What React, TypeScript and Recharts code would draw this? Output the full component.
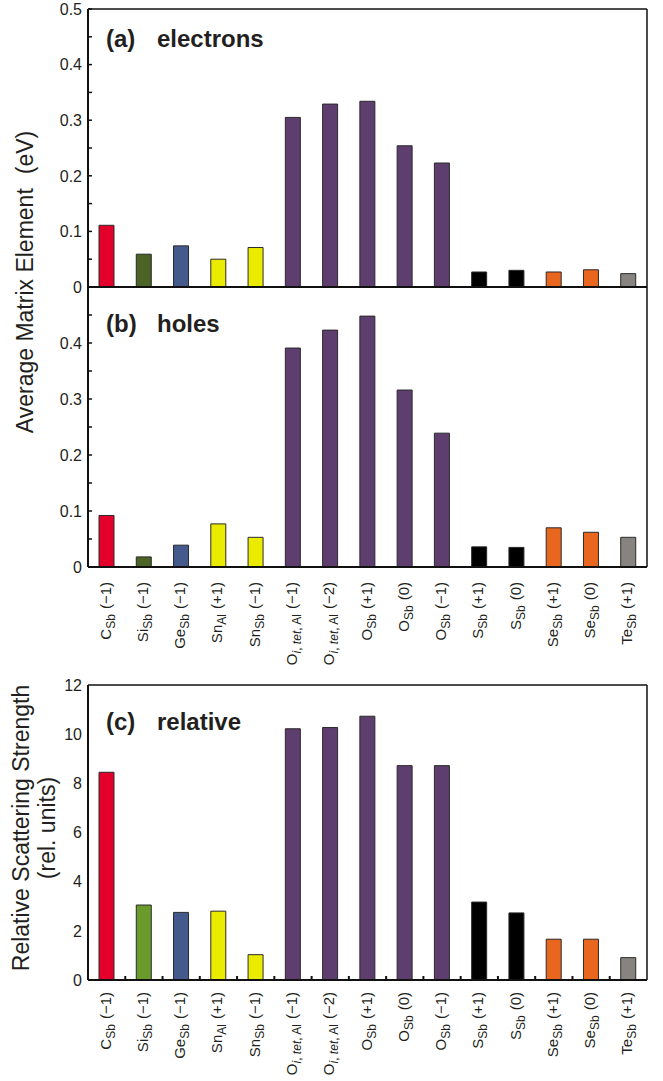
import React from "react";
import { BarChart, Bar, Cell, XAxis, YAxis } from "recharts";

// defect labels: species, subscript site, charge state
const species = ["C", "Si", "Ge", "Sn", "Sn", "O", "O", "O", "O", "O", "S", "S", "Se", "Se", "Te"];
const sites = ["Sb", "Sb", "Sb", "Al", "Sb", "i, tet, Al", "i, tet, Al", "Sb", "Sb", "Sb", "Sb", "Sb", "Sb", "Sb", "Sb"];
const charges = ["(−1)", "(−1)", "(−1)", "(+1)", "(−1)", "(−1)", "(−2)", "(+1)", "(0)", "(−1)", "(+1)", "(0)", "(+1)", "(0)", "(+1)"];

// average matrix element (eV)
const electrons = [0.111, 0.059, 0.074, 0.05, 0.071, 0.305, 0.329, 0.334, 0.254, 0.223, 0.027, 0.03, 0.027, 0.031, 0.024];
const holes = [0.092, 0.018, 0.039, 0.077, 0.053, 0.391, 0.423, 0.448, 0.316, 0.239, 0.036, 0.035, 0.07, 0.062, 0.053];
// relative scattering strength (rel. units)
const relative = [8.45, 3.05, 2.75, 2.8, 1.03, 10.22, 10.27, 10.73, 8.72, 8.72, 3.17, 2.73, 1.66, 1.66, 0.91];

const matrixTicks = [0, 0.05, 0.1, 0.15, 0.2, 0.25, 0.3, 0.35, 0.4, 0.45, 0.5];
const relativeTicks = [0, 2, 4, 6, 8, 10, 12];

const matrixColors = ["#E3002A", "#4B6324", "#44598C", "#EBEB00", "#EBEB00", "#5E3D6F", "#5E3D6F", "#5E3D6F", "#5E3D6F", "#5E3D6F", "#000000", "#000000", "#E8661E", "#E8661E", "#87837F"];
const relativeColors = ["#E3002A", "#6A9A2C", "#44598C", "#EBEB00", "#EBEB00", "#5E3D6F", "#5E3D6F", "#5E3D6F", "#5E3D6F", "#5E3D6F", "#000000", "#000000", "#E8661E", "#E8661E", "#87837F"];

const rows = species.map((s, i) => ({
  id: String(i),
  electrons: electrons[i],
  holes: holes[i],
  relative: relative[i],
}));

const FONT = "'Liberation Sans', Arial, Helvetica, sans-serif";
const INK = "#231f20";
const W = 663;
// plot spans x 88..647; y axes are 1px wide
const M = { right: 15, left: 87 };

const SiteText = ({ site }: { site: string }) => (
  <>
    {site.split(/(, )/).map((p, k) => (
      <tspan key={k} fontStyle={p === "i" || p === "tet" ? "italic" : "normal"}>
        {p}
      </tspan>
    ))}
  </>
);

const DefectTick = (props: any) => {
  const { x, y, payload, gap, marks } = props;
  const i = Number(payload.value);
  const half = payload.offset || 18.6;
  return (
    <g>
      {marks && i > 0 && (
        <line x1={x - half} x2={x - half} y1={y} y2={y - 4} stroke="#111" strokeWidth={2} />
      )}
      <text
        transform={`translate(${x + 4},${y + gap}) rotate(-90)`}
        textAnchor="end"
        fontFamily={FONT}
        fontSize={15}
        fill={INK}
        style={{ whiteSpace: "pre" }}
      >
        <tspan>{species[i]}</tspan>
        <tspan dy={4} fontSize={12}>
          <SiteText site={sites[i]} />
        </tspan>
        <tspan dy={-4} dx={5}>{charges[i]}</tspan>
      </text>
    </g>
  );
};

const ValueTick = (props: any) => {
  const { y, payload, marks, maxLabel, decimals, axisX } = props;
  const v = payload.value;
  const isMajor = decimals ? Math.abs(v * 10 - Math.round(v * 10)) < 1e-6 : true;
  const label = v === 0 ? "0" : v.toFixed(decimals);
  return (
    <g>
      {marks && <line x1={axisX} x2={axisX + 4} y1={y} y2={y} stroke="#111" strokeWidth={1.5} />}
      {isMajor && v <= maxLabel && (
        <text x={axisX - 6} y={y} dy="0.36em" textAnchor="end" fontFamily={FONT} fontSize={16} fill={INK}>
          {label}
        </text>
      )}
    </g>
  );
};

function MatrixPanel({ dataKey, height, top, bottom, withLabels, maxLabel }: any) {
  return (
    <BarChart width={W} height={height} data={rows} margin={{ top: top - 1, right: M.right, left: M.left, bottom }} barSize={15}>
      <XAxis
        dataKey="id"
        interval={0}
        tickLine={false}
        tickSize={0}
        tickMargin={0}
        height={withLabels ? 120 : 1}
        tick={withLabels ? (p: any) => <DefectTick {...p} gap={15} marks={false} /> : false}
        axisLine={{ stroke: "#111", strokeWidth: 2 }}
      />
      <XAxis xAxisId="top" orientation="top" dataKey="id" tick={false} tickLine={false} height={1} axisLine={{ stroke: "#111", strokeWidth: 1.5 }} />
      <YAxis
        type="number"
        domain={[0, 0.5]}
        ticks={matrixTicks}
        interval={0}
        width={1}
        tickLine={false}
        tickSize={0}
        tickMargin={0}
        tick={(p: any) => <ValueTick {...p} axisX={M.left + 1} marks decimals={1} maxLabel={maxLabel} />}
        axisLine={{ stroke: "#111", strokeWidth: 2 }}
      />
      <YAxis yAxisId="right" orientation="right" type="number" domain={[0, 1]} tick={false} tickLine={false} width={1} axisLine={{ stroke: "#111", strokeWidth: 1.5 }} />
      <Bar dataKey={dataKey} stroke="#2a2a2a" strokeWidth={1} isAnimationActive={false}>
        {rows.map((r, i) => (
          <Cell key={r.id} fill={matrixColors[i]} />
        ))}
      </Bar>
    </BarChart>
  );
}

function RelativePanel() {
  return (
    <BarChart width={W} height={404} data={rows} margin={{ top: 8, right: M.right, left: M.left, bottom: 0 }} barSize={15}>
      <XAxis
        dataKey="id"
        interval={0}
        tickLine={false}
        tickSize={0}
        tickMargin={0}
        height={100}
        tick={(p: any) => <DefectTick {...p} gap={12} marks />}
        axisLine={{ stroke: "#111", strokeWidth: 2 }}
      />
      <XAxis xAxisId="top" orientation="top" dataKey="id" tick={false} tickLine={false} height={1} axisLine={{ stroke: "#111", strokeWidth: 1.5 }} />
      <YAxis
        type="number"
        domain={[0, 12]}
        ticks={relativeTicks}
        interval={0}
        width={1}
        tickLine={false}
        tickSize={0}
        tickMargin={0}
        tick={(p: any) => <ValueTick {...p} axisX={M.left + 1} marks={false} decimals={0} maxLabel={12} />}
        axisLine={{ stroke: "#111", strokeWidth: 2 }}
      />
      <YAxis yAxisId="right" orientation="right" type="number" domain={[0, 1]} tick={false} tickLine={false} width={1} axisLine={{ stroke: "#111", strokeWidth: 1.5 }} />
      <Bar dataKey="relative" stroke="#2a2a2a" strokeWidth={1} isAnimationActive={false}>
        {rows.map((r, i) => (
          <Cell key={r.id} fill={relativeColors[i]} />
        ))}
      </Bar>
    </BarChart>
  );
}

export default function App() {
  const abs = (top: number): React.CSSProperties => ({ position: "absolute", left: 0, top });
  return (
    <div style={{ position: "absolute", left: 0, top: 0, width: W, height: 1081, background: "#fff" }}>
      <div style={abs(0)}>
        <MatrixPanel dataKey="electrons" height={300} top={9} bottom={12} withLabels={false} maxLabel={0.5} />
      </div>
      <div style={abs(280)}>
        <MatrixPanel dataKey="holes" height={407} top={7} bottom={0} withLabels maxLabel={0.45} />
      </div>
      <div style={abs(676)}>
        <RelativePanel />
      </div>
      <svg width={W} height={1081} style={{ position: "absolute", left: 0, top: 0, pointerEvents: "none" }}>
        <g fontFamily={FONT} fill={INK} fontWeight="bold" fontSize={24}>
          <text x={106} y={47}>(a)</text>
          <text x={157} y={47}>electrons</text>
          <text x={106} y={332}>(b)</text>
          <text x={157} y={332}>holes</text>
          <text x={106} y={730}>(c)</text>
          <text x={157} y={730}>relative</text>
        </g>
        <g fontFamily={FONT} fill={INK} fontSize={23} textAnchor="middle">
          <text transform="translate(33,282) rotate(-90)">
            Average Matrix Element<tspan dx={14}>(eV)</tspan>
          </text>
          <text transform="translate(29,828) rotate(-90)">Relative Scattering Strength</text>
          <text transform="translate(55,828) rotate(-90)">(rel. units)</text>
        </g>
      </svg>
    </div>
  );
}
